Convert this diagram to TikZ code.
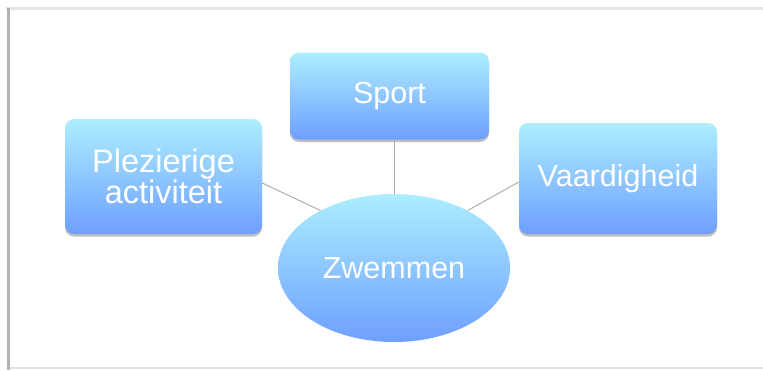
\documentclass[tikz,border=0pt]{standalone}
\usepackage{fontspec}
\setmainfont{Liberation Sans}
\usetikzlibrary{shadows,shapes.geometric}
\definecolor{boxtop}{HTML}{ADEEFF}
\definecolor{boxbot}{HTML}{6E9FFF}
\definecolor{linkgray}{HTML}{A8A8A8}
\begin{document}
\begin{tikzpicture}[x=1pt,y=-1pt,
  topic/.style={rounded corners=9pt, top color=boxtop, bottom color=boxbot,
    draw=none, text=white, align=center, inner sep=0pt,
    font=\fontsize{30.5}{31}\selectfont,
    drop shadow={shadow xshift=0pt, shadow yshift=-2.5pt, opacity=0.25, fill=black}},
  hub/.style={ellipse, top color=boxtop, bottom color=boxbot, draw=none,
    text=white, inner sep=0pt, font=\fontsize{30.5}{31}\selectfont},
  link/.style={draw=linkgray, line width=0.9pt}
]
  % canvas and frame
  \useasboundingbox (0,0) rectangle (763,370);
  \fill[white] (0,0) rectangle (763,370);
  \fill[black!10] (6,7) rectangle (763,10);
  \fill[black!30] (7,8) rectangle (10,370);
  \fill[black!12] (10,366.5) rectangle (763,369);
  \fill[white] (10,10) rectangle (763,366.5);

  % nodes
  \node[topic, minimum width=199pt, minimum height=87pt] (sport) at (389.5,96) {\raisebox{-2pt}{Sport}};
  \node[topic, minimum width=197pt, minimum height=115pt,
        font=\fontsize{32.5}{30}\selectfont] (plez) at (163.5,176.5) {Plezierige\\activiteit};
  \node[topic, minimum width=198pt, minimum height=111pt] (vaard) at (618,178.5) {Vaardigheid};
  \node[hub, minimum width=232pt, minimum height=148pt] (zwem) at (394,268) {Zwemmen};

  % connectors
  \draw[link] (zwem.north |- sport.south) -- (zwem.north);
  \draw[link] (plez.east |- 0,183) -- (zwem.142);
  \draw[link] (vaard.west |- 0,182) -- (zwem.38);
\end{tikzpicture}
\end{document}
